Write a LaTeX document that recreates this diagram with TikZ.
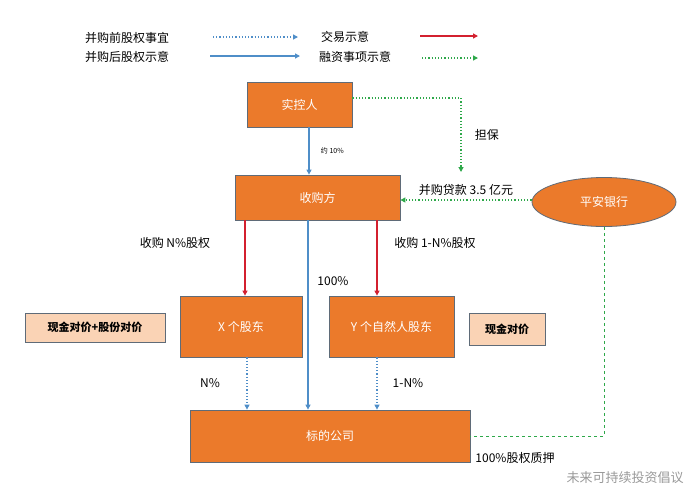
\documentclass[tikz,border=0pt]{standalone}
\usepackage{fontspec}
\setmainfont{Noto Sans CJK SC}
\usetikzlibrary{shapes.geometric,arrows.meta}
\definecolor{org}{HTML}{EB7A2B}
\definecolor{bd}{HTML}{5F6B78}
\definecolor{bl}{HTML}{4F8EC8}
\definecolor{rd}{HTML}{D3202F}
\definecolor{gr}{HTML}{2EA84A}
\definecolor{pch}{HTML}{FAD3B5}
\tikzset{
 box/.style={draw=bd,line width=0.8pt,fill=org,text=white,font=\fontsize{12}{14}\selectfont},
 cbox/.style={draw=bd,line width=0.6pt,fill=pch,font=\fontsize{11}{13}\selectfont\bfseries},
 lbl/.style={font=\fontsize{12}{14}\selectfont},
 blsolid/.style={draw=bl,line width=1.2pt,-{Triangle[length=5pt,width=5pt]}},
 bldot/.style={draw=bl,line width=1.2pt,dotted,-{Triangle[length=5pt,width=5pt]}},
 rdarr/.style={draw=rd,line width=1.2pt,-{Triangle[length=5pt,width=5pt]}},
 grdot/.style={draw=gr,line width=1.2pt,dotted,-{Triangle[length=5pt,width=5pt]}},
}
\begin{document}
\begin{tikzpicture}[x=1pt,y=-1pt]
\useasboundingbox (0,0) rectangle (700,493);
% legend
\node[lbl] (l1) at (127,38) {并购前股权事宜};
\node[lbl] (l2) at (127,57) {并购后股权示意};
\node[lbl] (l3) at (345,37) {交易示意};
\node[lbl] (l4) at (355,57) {融资事项示意};
\coordinate (a1) at (213,37); \coordinate (b1) at (298,37);
\coordinate (a2) at (210,56); \coordinate (b2) at (300,56);
\coordinate (a3) at (420,36); \coordinate (b3) at (478,36);
\coordinate (a4) at (422,58); \coordinate (b4) at (478,58);
\draw[bldot] (a1) -- (b1);
\draw[blsolid] (a2) -- (b2);
\draw[rdarr] (a3) -- (b3);
\draw[grdot] (a4) -- (b4);
% nodes
\node[box,minimum width=105,minimum height=45] (sk) at (299.5,104.5) {实控人};
\node[box,minimum width=165,minimum height=45] (sg) at (317.5,197.5) {收购方};
\node[box,minimum width=122,minimum height=61] (x) at (241,326.5) {X 个股东};
\node[box,minimum width=125,minimum height=61] (y) at (391.5,326.5) {Y 个自然人股东};
\node[box,minimum width=280,minimum height=52] (bd) at (330,436) {标的公司};
\node[box,ellipse,minimum width=144,minimum height=49,inner sep=0] (pa) at (604,202) {平安银行};
\node[cbox,minimum width=140,minimum height=29] (c1) at (95,327.5) {现金对价+股份对价};
\node[cbox,minimum width=76,minimum height=32] (c2) at (507,329) {现金对价};
% arrows
\draw[blsolid] (sk.south -| 309,0) -- (sg.north -| 309,0) node[midway,right=8pt,font=\scriptsize,text=black] {约 10\%};
\coordinate (gend) at (461,172);
\draw[grdot] (sk.east |- 0,98) -| (gend) node[pos=0.75,right=10pt,lbl,text=black] {担保};
\draw[grdot] (pa.west |- 0,200) -- (sg.east |- 0,200) node[midway,above=1pt,lbl,text=black] {并购贷款 3.5 亿元};
\draw[rdarr] (sg.south -| 245,0) -- (x.north -| 245,0);
\node[lbl] at (175,243) {收购 N\%股权};
\draw[rdarr] (sg.south -| 377,0) -- (y.north -| 377,0);
\node[lbl] at (435,243) {收购 1-N\%股权};
\draw[blsolid] (sg.south -| 308,0) -- (bd.north -| 308,0);
\node[lbl] at (333,281) {100\%};
\draw[bldot] (x.south -| 247,0) -- (bd.north -| 247,0);
\node[lbl] at (210,383) {N\%};
\draw[bldot] (y.south -| 377,0) -- (bd.north -| 377,0);
\node[lbl] at (408,383) {1-N\%};
\draw[gr,line width=0.8pt,dashed] (pa.south -| 604,0) -- (604,436) -- (bd.east |- 0,436);
\node[lbl] at (515,458) {100\%股权质押};
\node[font=\fontsize{13}{15}\selectfont,text=black!40] at (625,478) {未来可持续投资倡议};
\end{tikzpicture}
\end{document}
